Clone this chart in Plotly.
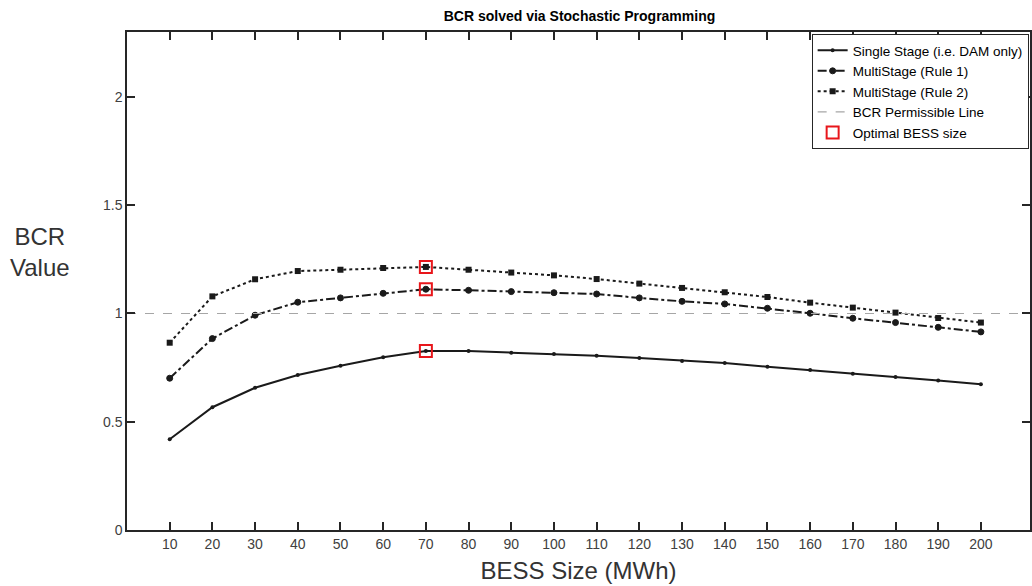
import plotly.graph_objects as go

# BESS sizes (MWh)
bess_size = [10, 20, 30, 40, 50, 60, 70, 80, 90, 100,
             110, 120, 130, 140, 150, 160, 170, 180, 190, 200]

# Benefit-cost ratio for each strategy
bcr_single = [0.419, 0.567, 0.657, 0.716, 0.759, 0.798, 0.827, 0.827, 0.819, 0.813,
              0.805, 0.794, 0.781, 0.771, 0.754, 0.739, 0.722, 0.707, 0.691, 0.673]
bcr_rule1 = [0.701, 0.884, 0.992, 1.052, 1.072, 1.093, 1.112, 1.107, 1.101, 1.096,
             1.090, 1.072, 1.056, 1.044, 1.024, 1.001, 0.978, 0.958, 0.936, 0.915]
bcr_rule2 = [0.865, 1.079, 1.158, 1.196, 1.202, 1.210, 1.215, 1.202, 1.189, 1.176,
             1.159, 1.138, 1.118, 1.098, 1.076, 1.050, 1.027, 1.004, 0.979, 0.958]

permissible_bcr = 1.0
optimal_size = 70
x_range = [0, 211.5]
y_range = [0, 2.3]
y_ticks = [0, 0.5, 1, 1.5, 2]
y_tick_text = ["0", "0.5", "1", "1.5", "2"]

ink = "#1a1a1a"
axis_col = "#262626"
font_family = "Liberation Sans, Arial, sans-serif"

fig = go.Figure()

fig.add_trace(go.Scatter(
    x=bess_size, y=bcr_single, mode="lines+markers",
    name="Single Stage (i.e. DAM only)",
    line=dict(color=ink, width=2, dash="solid"),
    marker=dict(symbol="circle", size=4, color=ink),
))
fig.add_trace(go.Scatter(
    x=bess_size, y=bcr_rule1, mode="lines+markers",
    name="MultiStage (Rule 1)",
    line=dict(color=ink, width=2, dash="dashdot"),
    marker=dict(symbol="circle", size=6, color=ink,
                line=dict(color=ink, width=1)),
))
fig.add_trace(go.Scatter(
    x=bess_size, y=bcr_rule2, mode="lines+markers",
    name="MultiStage (Rule 2)",
    line=dict(color=ink, width=2, dash="dot"),
    marker=dict(symbol="square", size=6, color=ink),
))
fig.add_trace(go.Scatter(
    x=x_range, y=[permissible_bcr, permissible_bcr], mode="lines",
    name="BCR Permissible Line",
    line=dict(color="#a6a6a6", width=1.2, dash="dash"),
))

# Optimal BESS size highlighted on each curve
opt_idx = bess_size.index(optimal_size)
fig.add_trace(go.Scatter(
    x=[optimal_size] * 3,
    y=[bcr_single[opt_idx], bcr_rule1[opt_idx], bcr_rule2[opt_idx]],
    mode="markers", name="Optimal BESS size",
    marker=dict(symbol="square-open", size=12, color="#e8161b",
                line=dict(color="#e8161b", width=2)),
))

axis_common = dict(
    showline=True, linecolor=axis_col, linewidth=1.5, mirror="ticks",
    ticks="inside", ticklen=8, tickwidth=1.5, tickcolor=axis_col,
    showgrid=False, zeroline=False,
    tickfont=dict(family=font_family, size=14, color="#404040"),
)

fig.update_layout(
    width=1032, height=586,
    margin=dict(l=127, r=0, t=32, b=56),
    paper_bgcolor="white", plot_bgcolor="white",
    title=dict(
        text="<b>BCR solved via Stochastic Programming</b>",
        x=(127 + 1032) / 2 / 1032, xanchor="center", y=0.972, yanchor="middle",
        font=dict(family=font_family, size=14, color="#000"),
    ),
    xaxis=dict(
        range=x_range, tickvals=bess_size,
        title=dict(text="BESS Size (MWh)", standoff=12,
                   font=dict(family=font_family, size=24, color="#333")),
        **axis_common,
    ),
    yaxis=dict(
        range=y_range, tickvals=y_ticks, ticktext=y_tick_text,
        **axis_common,
    ),
    legend=dict(
        x=0.9985, y=0.996, xanchor="right", yanchor="top",
        bgcolor="white", bordercolor=axis_col, borderwidth=1,
        font=dict(family=font_family, size=13.5, color="#000"),
        tracegroupgap=0, itemwidth=30,
    ),
    showlegend=True,
)

# Horizontal y-axis caption
fig.add_annotation(
    text="BCR<br>Value", xref="paper", yref="paper",
    x=-0.096, y=0.558, xanchor="center", yanchor="middle", showarrow=False,
    font=dict(family=font_family, size=24, color="#333"),
    align="center",
)

fig.write_html("out.html")
